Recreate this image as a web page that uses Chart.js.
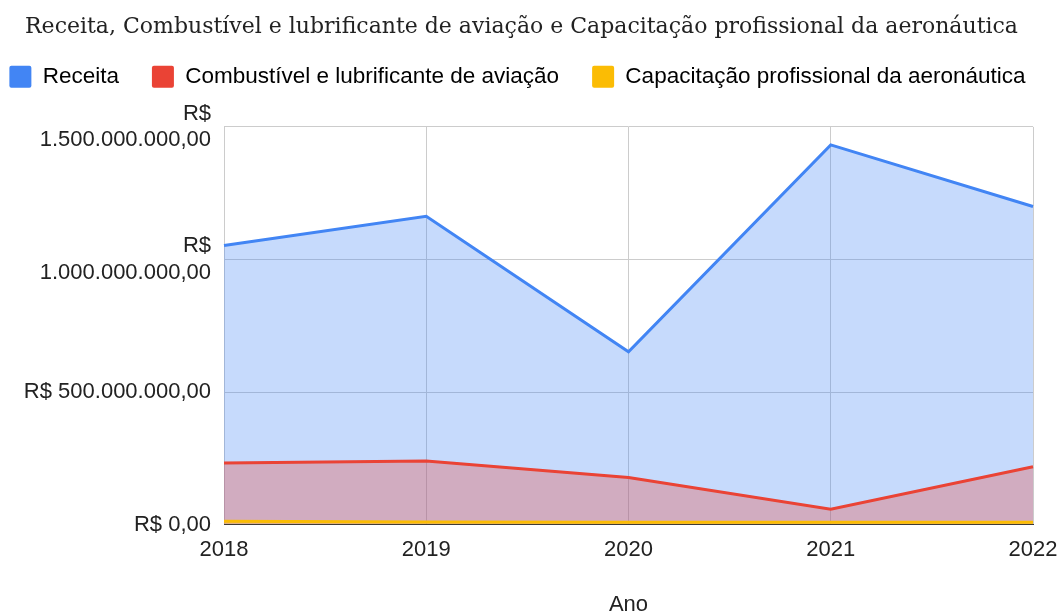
<!DOCTYPE html>
<html>
<head>
<meta charset="utf-8">
<script src="https://cdn.jsdelivr.net/npm/chart.js@4"></script>
<style>
  html, body { margin: 0; padding: 0; background: #fff; }
  #wrap { width: 1061px; height: 616px; }
</style>
</head>
<body>
<div id="wrap"><canvas id="chart" width="1061" height="616"></canvas></div>
<script>
const anos = ["2018", "2019", "2020", "2021", "2022"];
const receita = [1053000000, 1163000000, 652000000, 1432000000, 1200000000];
const combustivel = [232000000, 240000000, 178000000, 58000000, 218000000];
const capacitacao = [13000000, 10000000, 9000000, 9000000, 9000000];
const yTicks = [0, 500000000, 1000000000, 1500000000];

function brl(v) {
  const parts = Math.round(v).toString().replace(/\B(?=(\d{3})+(?!\d))/g, ".");
  return parts + ",00";
}

// keep the legend on one row, spread across the full width,
// and push the plot a bit lower under it
const legendGap = {
  id: "legendGap",
  beforeInit(chart) {
    const fit = chart.legend.fit;
    chart.legend.fit = function () {
      this.maxWidth = 2000;
      fit.bind(chart.legend)();
      this.height += 29;
    };
  },
  afterLayout(chart) {
    chart.legend.left = -45;
    chart.legend.right = 1080;
    chart.legend.width = 1125;
  }
};

new Chart(document.getElementById("chart"), {
  type: "line",
  data: {
    labels: anos,
    datasets: [
      {
        label: "Receita",
        data: receita,
        borderColor: "#4285f4",
        backgroundColor: "rgba(66,133,244,0.3)",
        fill: "origin",
        borderWidth: 3,
        pointRadius: 0,
        tension: 0,
        order: 3
      },
      {
        label: "Combustível e lubrificante de aviação",
        data: combustivel,
        borderColor: "#ea4335",
        backgroundColor: "rgba(234,67,53,0.3)",
        fill: "origin",
        borderWidth: 3,
        pointRadius: 0,
        tension: 0,
        order: 2
      },
      {
        label: "Capacitação profissional da aeronáutica",
        data: capacitacao,
        borderColor: "#fbbc04",
        backgroundColor: "rgba(251,188,4,0.3)",
        fill: "origin",
        borderWidth: 3,
        pointRadius: 0,
        tension: 0,
        order: 1
      }
    ]
  },
  plugins: [legendGap],
  options: {
    responsive: false,
    animation: false,
    layout: { padding: { left: 0, right: 18, top: 0, bottom: 0 } },
    plugins: {
      title: {
        display: true,
        text: "Receita, Combustível e lubrificante de aviação e Capacitação profissional da aeronáutica",
        font: { family: "DejaVu Serif", size: 22, weight: "normal" },
        color: "#222",
        padding: { top: 14, bottom: -8 }
      },
      legend: {
        labels: {
          sort: (a, b) => a.datasetIndex - b.datasetIndex,
          boxWidth: 22,
          boxHeight: 22,
          useBorderRadius: true,
          borderRadius: 2,
          font: { family: "Liberation Sans", size: 22.5 },
          color: "#222",
          padding: 33,
          generateLabels: chart => chart.data.datasets.map((ds, i) => ({
            text: ds.label,
            fillStyle: ds.borderColor,
            strokeStyle: ds.borderColor,
            lineWidth: 0,
            datasetIndex: i,
            borderRadius: 2
          }))
        }
      },
      tooltip: { enabled: false }
    },
    scales: {
      x: {
        offset: false,
        afterFit: scale => { scale.paddingRight = 28; },
        grid: { color: "#cccccc", drawTicks: false },
        border: { color: "#333333", width: 1 },
        ticks: {
          font: { family: "Liberation Sans", size: 22 },
          color: "#222",
          padding: 12,
          maxRotation: 0
        },
        title: {
          display: true,
          text: "Ano",
          font: { family: "Liberation Sans", size: 22, lineHeight: 1 },
          color: "#222",
          padding: { top: 19, bottom: 0 }
        }
      },
      y: {
        min: 0,
        max: 1500000000,
        afterBuildTicks: scale => { scale.ticks = yTicks.map(v => ({ value: v })); },
        afterFit: scale => { scale.width = 224; },
        grid: {
          color: ctx => (ctx.tick && ctx.tick.value === 0) ? "#333333" : "#cccccc",
          drawTicks: false
        },
        border: { display: false },
        ticks: {
          font: { family: "Liberation Sans", size: 22 },
          color: "#222",
          padding: 13,
          callback: v => v >= 1000000000 ? ["R$", brl(v)] : "R$ " + brl(v)
        }
      }
    }
  }
});
</script>
</body>
</html>
